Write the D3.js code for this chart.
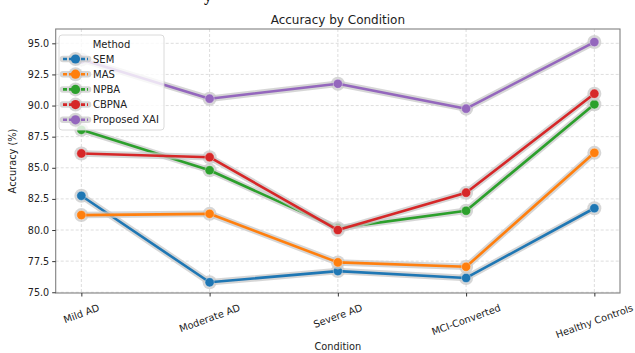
<!DOCTYPE html>
<html>
<head>
<meta charset="utf-8">
<script src="https://cdn.jsdelivr.net/npm/d3@7/dist/d3.min.js"></script>
<style>
  html, body { margin: 0; padding: 0; background: #fff; }
  svg { display: block; font-family: "DejaVu Sans", sans-serif; }
</style>
</head>
<body>
<svg id="chart" width="635" height="353"></svg>
<script>
// Accuracy (%) per condition for each method
const conditions = ["Mild AD", "Moderate AD", "Severe AD", "MCI-Converted", "Healthy Controls"];
const methods = ["SEM", "MAS", "NPBA", "CBPNA", "Proposed XAI"];
const semValues = [82.75, 75.8, 76.7, 76.15, 81.75];
const masValues = [81.2, 81.3, 77.4, 77.05, 86.2];
const npbaValues = [88.05, 84.8, 80.15, 81.55, 90.1];
const cbpnaValues = [86.15, 85.85, 80.0, 83.0, 90.95];
const xaiValues = [93.7, 90.55, 91.75, 89.75, 95.1];
const yTicks = [75.0, 77.5, 80.0, 82.5, 85.0, 87.5, 90.0, 92.5, 95.0];
const colors = ["#1f77b4", "#ff7f0e", "#2ca02c", "#d62728", "#9467bd"];

const seriesValues = [semValues, masValues, npbaValues, cbpnaValues, xaiValues];

const svg = d3.select("#chart");
const plot = { left: 55.7, right: 620, top: 29, bottom: 293 };

const x = d3.scalePoint().domain(conditions).range([plot.left, plot.right]).padding(0.2);
const y = d3.scaleLinear().domain([74.94, 96.15]).range([plot.bottom, plot.top]);

// fragment of the caption sitting above the figure
svg.append("text").attr("x", 204).attr("y", 1)
  .attr("font-family", "Liberation Serif, serif").attr("font-weight", "bold")
  .attr("font-size", 16).attr("fill", "#111").text("y");

// grid
const grid = svg.append("g");
grid.selectAll("line.gx").data(conditions).join("line")
  .attr("x1", d => x(d)).attr("x2", d => x(d))
  .attr("y1", plot.top).attr("y2", plot.bottom)
  .attr("stroke", "#b0b0b0").attr("stroke-opacity", 0.55)
  .attr("stroke-width", 0.8).attr("stroke-dasharray", "3,2");
grid.selectAll("line.gy").data(yTicks).join("line")
  .attr("x1", plot.left).attr("x2", plot.right)
  .attr("y1", d => y(d)).attr("y2", d => y(d))
  .attr("stroke", "#b0b0b0").attr("stroke-opacity", 0.55)
  .attr("stroke-width", 0.8).attr("stroke-dasharray", "3,2");

// series
const line = d3.line().x((d, i) => x(conditions[i])).y(d => y(d));
const series = svg.append("g");
seriesValues.forEach((vals, k) => {
  const g = series.append("g");
  g.append("path").attr("d", line(vals)).attr("fill", "none")
    .attr("stroke", "#c8c8c8").attr("stroke-opacity", 0.75)
    .attr("stroke-width", 6.5).attr("stroke-linejoin", "round").attr("stroke-linecap", "round");
  g.selectAll("circle.halo").data(vals).join("circle")
    .attr("cx", (d, i) => x(conditions[i])).attr("cy", d => y(d))
    .attr("r", 7).attr("fill", "#c8c8c8").attr("fill-opacity", 0.75);
  g.append("path").attr("d", line(vals)).attr("fill", "none")
    .attr("stroke", colors[k]).attr("stroke-width", 2.6).attr("stroke-linejoin", "round");
  g.selectAll("circle.dot").data(vals).join("circle")
    .attr("cx", (d, i) => x(conditions[i])).attr("cy", d => y(d))
    .attr("r", 4.6).attr("fill", colors[k])
    .attr("stroke", "#fff").attr("stroke-width", 0.6).attr("stroke-opacity", 0.6);
});

// frame
svg.append("rect").attr("x", plot.left).attr("y", plot.top)
  .attr("width", plot.right - plot.left).attr("height", plot.bottom - plot.top)
  .attr("fill", "none").attr("stroke", "#808080").attr("stroke-width", 1.1);

// y axis
const yAxis = svg.append("g").attr("transform", `translate(${plot.left},0)`)
  .call(d3.axisLeft(y).tickValues(yTicks).tickFormat(d3.format(".1f")).tickSize(3.5).tickPadding(3));
yAxis.select(".domain").remove();
yAxis.selectAll("line").attr("stroke", "#333");
yAxis.selectAll("text").attr("font-size", 9.6).attr("fill", "#222")
  .attr("font-family", "DejaVu Sans, sans-serif");

// x axis
const xAxis = svg.append("g").attr("transform", `translate(0,${plot.bottom})`)
  .call(d3.axisBottom(x).tickSize(3.5).tickFormat(""));
xAxis.select(".domain").remove();
xAxis.selectAll("line").attr("stroke", "#333");

const angle = 20 * Math.PI / 180;
const xLabels = svg.append("g");
conditions.forEach(c => {
  const t = xLabels.append("text").attr("font-size", 9.8).attr("fill", "#222")
    .attr("text-anchor", "middle").attr("dominant-baseline", "central").text(c);
  const w = t.node().getComputedTextLength();
  const h = 11;
  const bh = w * Math.sin(angle) + h * Math.cos(angle);
  const cy = plot.bottom + 3.5 + 5.5 + bh / 2;
  t.attr("transform", `translate(${x(c)},${cy}) rotate(-20)`);
});

// axis titles and chart title
svg.append("text").attr("x", (plot.left + plot.right) / 2).attr("y", 350)
  .attr("text-anchor", "middle").attr("font-size", 9.8).attr("fill", "#222").text("Condition");
svg.append("text").attr("transform", `translate(15.5,${(plot.top + plot.bottom) / 2}) rotate(-90)`)
  .attr("text-anchor", "middle").attr("font-size", 9.8).attr("fill", "#222").text("Accuracy (%)");
svg.append("text").attr("x", (plot.left + plot.right) / 2).attr("y", 24)
  .attr("text-anchor", "middle").attr("font-size", 12).attr("fill", "#222").text("Accuracy by Condition");

// legend
const legend = svg.append("g").attr("transform", "translate(59,35)");
legend.append("rect").attr("width", 105).attr("height", 95).attr("rx", 3)
  .attr("fill", "#fff").attr("fill-opacity", 0.8).attr("stroke", "#d0d0d0").attr("stroke-width", 0.8);
legend.append("text").attr("x", 52.5).attr("y", 12.5).attr("text-anchor", "middle")
  .attr("font-size", 10).attr("fill", "#222").text("Method");
methods.forEach((m, k) => {
  const cy = 24 + k * 15.2;
  const e = legend.append("g");
  e.append("line").attr("x1", 4).attr("x2", 29).attr("y1", cy).attr("y2", cy)
    .attr("stroke", "#c8c8c8").attr("stroke-opacity", 0.75).attr("stroke-width", 6.5).attr("stroke-linecap", "round");
  e.append("circle").attr("cx", 16.5).attr("cy", cy).attr("r", 7).attr("fill", "#c8c8c8").attr("fill-opacity", 0.75);
  e.append("line").attr("x1", 4).attr("x2", 29).attr("y1", cy).attr("y2", cy)
    .attr("stroke", colors[k]).attr("stroke-width", 2.6).attr("stroke-dasharray", "4,2");
  e.append("circle").attr("cx", 16.5).attr("cy", cy).attr("r", 4.6).attr("fill", colors[k]);
  e.append("text").attr("x", 34).attr("y", cy).attr("dominant-baseline", "central")
    .attr("font-size", 10).attr("fill", "#222").text(m);
});
</script>
</body>
</html>
